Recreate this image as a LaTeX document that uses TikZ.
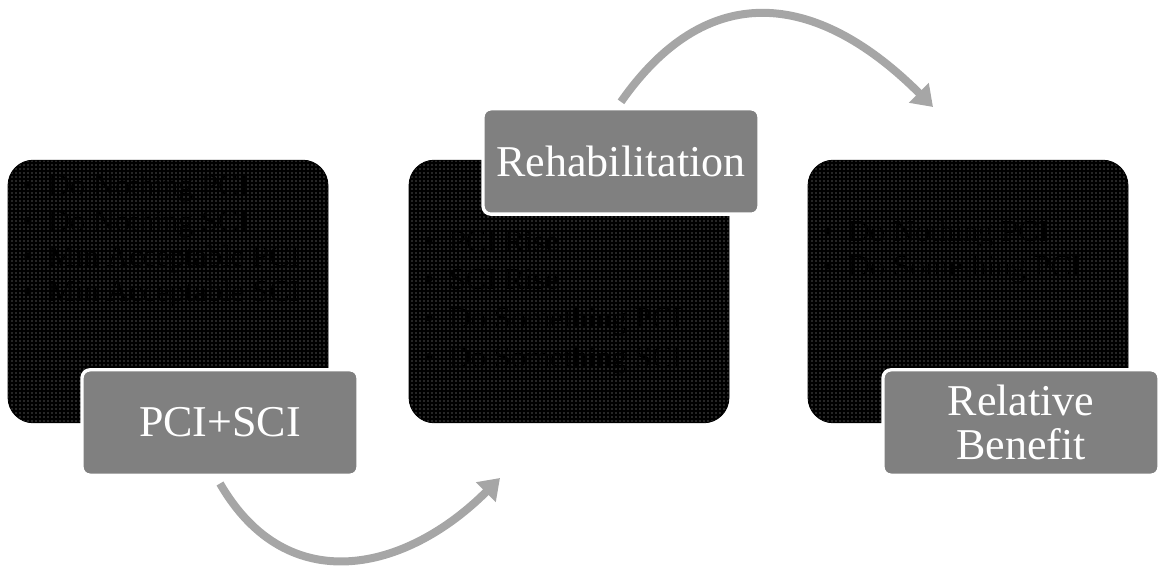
\documentclass[tikz,border=0pt]{standalone}
\usepackage{fontspec}
\setmainfont{Liberation Serif}
\usetikzlibrary{arrows.meta,patterns}
\newcommand{\listbullet}{\makebox[19pt][l]{\textbullet}}

\begin{document}
\begin{tikzpicture}[x=0.75pt,y=0.75pt,panel/.style={rectangle,rounded corners=19pt,draw=black,line width=0.6pt,preaction={fill=black},pattern=dots,pattern color=black!35,minimum width=240pt,minimum height=197pt,inner sep=0pt},items/.style={anchor=north west,align=left,inner sep=0pt,text=black,font=\fontsize{23}{26.5}\selectfont},stage/.style={rectangle,rounded corners=6pt,draw=white,line width=2.5pt,fill=black!50,text=white,minimum width=207pt,minimum height=79pt,align=center,font=\fontsize{33}{33}\selectfont},flow/.style={draw=black!35,line width=6pt,-{Triangle[length=15pt,width=20pt]}}]
\useasboundingbox (0,0) rectangle (1165,565);
\coordinate (P1) at (168,273.5);
\coordinate (P2) at (569,273.5);
\coordinate (P3) at (968,273.5);
\coordinate (L1) at (220,142.5);
\coordinate (L2) at (621,403.5);
\coordinate (L3) at (1021,142.5);
\coordinate (T1) at (500,87);
\coordinate (T2) at (933,458);
\node[panel] (panelA) at (P1) {};
\node[items] (listA) at ([xshift=11pt,yshift=-11pt]panelA.north west) {\listbullet Do Nothing PCI\\\listbullet Do Nothing SCI\\\listbullet Min Acceptable PCI\\\listbullet Min Acceptable SCI};
\node[panel] (panelB) at (P2) {};
\node[items,font=\fontsize{23}{29}\selectfont] (listB) at ([xshift=11pt,yshift=-53pt]panelB.north west) {\listbullet PCI Rise\\\listbullet SCI Rise\\\listbullet Do Something PCI\\\listbullet Do Something SCI};
\node[panel] (panelC) at (P3) {};
\node[items] (listC) at ([xshift=11pt,yshift=-45pt]panelC.north west) {\listbullet Do Nothing PCI\\\listbullet Do Something PCI};
\node[stage] (lab1) at (L1) {PCI+SCI};
\node[stage] (lab2) at (L2) {Rehabilitation};
\node[stage] (lab3) at (L3) {Relative\\Benefit};
\draw[flow] ([yshift=-5pt]lab1.south) .. controls +(-60:135) and +(-135:132) .. (T1);
\draw[flow] ([yshift=4pt]lab2.north) .. controls +(55:157) and +(135:157) .. (T2);
\end{tikzpicture}
\end{document}
